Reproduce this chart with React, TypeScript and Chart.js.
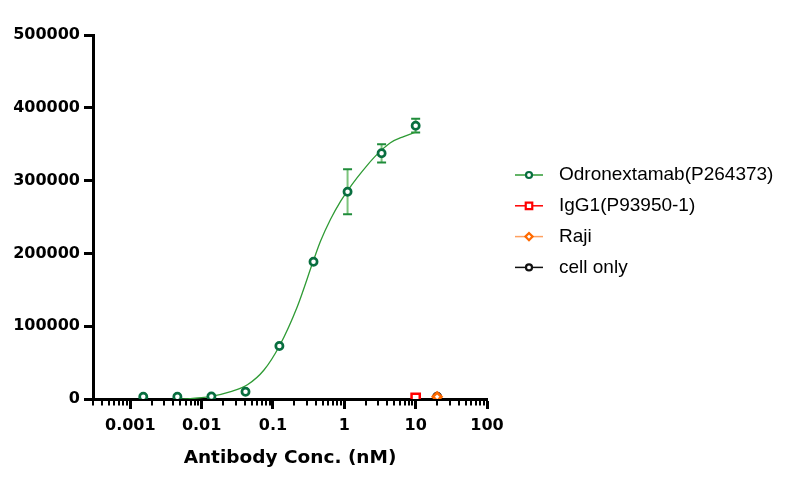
import React, { useEffect, useRef } from 'react';
import { Chart, registerables } from 'chart.js';
import { drawPoint } from 'chart.js/helpers';

Chart.register(...registerables);

// Odronextamab dose series (nM) and signal
const concentrations = [0.00152, 0.00457, 0.0137, 0.0412, 0.123, 0.37, 1.11, 3.33, 10];
const odronextamab = [3000, 3000, 3500, 10000, 72800, 188600, 284700, 337500, 375400];
const odronextamabSd = [0, 0, 0, 0, 0, 0, 31000, 12500, 9500];

// controls
const igg1Conc = [10];
const igg1 = [1500];
const rajiConc = [20];
const raji = [3000];
const cellOnlyConc = [20];
const cellOnly = [3000];

// fitted curve
const fitConc = [0.0015, 0.006, 0.0135, 0.0256, 0.0438, 0.0748, 0.123, 0.219, 0.37, 0.4645, 0.641, 0.885, 1.11, 1.515, 2.09, 2.88, 4.43, 6.79, 10];
const fitSignal = [-2500, 0, 3500, 10000, 19500, 39800, 72800, 126800, 190500, 217000, 247000, 271500, 286000, 304000, 321000, 336000, 352000, 360500, 366500];

// axes
const xTicks = [0.001, 0.01, 0.1, 1, 10, 100];
const xTickLabels = ['0.001', '0.01', '0.1', '1', '10', '100'];
const xMinorBases = [0.0001, 0.001, 0.01, 0.1, 1, 10];
const xMinorMultiples = [2, 3, 4, 5, 6, 7, 8, 9];
const yTicks = [0, 100000, 200000, 300000, 400000, 500000];

const toPoints = (xs: number[], ys: number[]) => xs.map((x, i) => ({ x, y: ys[i] }));

const errorBars = {
  id: 'errorBars',
  beforeDatasetsDraw(chart: any) {
    const { ctx, scales: { x, y } } = chart;
    ctx.save();
    concentrations.forEach((c, i) => {
      const sd = odronextamabSd[i];
      if (!sd) return;
      const px = x.getPixelForValue(c);
      const top = y.getPixelForValue(odronextamab[i] + sd);
      const bot = y.getPixelForValue(odronextamab[i] - sd);
      ctx.strokeStyle = '#7cc47c';
      ctx.lineWidth = 2;
      ctx.beginPath();
      ctx.moveTo(px, top);
      ctx.lineTo(px, bot);
      ctx.stroke();
      ctx.strokeStyle = '#1f8c3a';
      ctx.beginPath();
      ctx.moveTo(px - 4.5, top);
      ctx.lineTo(px + 4.5, top);
      ctx.moveTo(px - 4.5, bot);
      ctx.lineTo(px + 4.5, bot);
      ctx.stroke();
    });
    ctx.restore();
  },
};

const minorTicks = {
  id: 'minorTicks',
  afterDraw(chart: any) {
    const { ctx, chartArea } = chart;
    const xs = chart.scales.x;
    const y0 = chartArea.bottom + 1.5;
    ctx.save();
    ctx.strokeStyle = '#000';
    ctx.lineWidth = 2;
    ctx.beginPath();
    xMinorBases.forEach((b) => {
      xMinorMultiples.forEach((m) => {
        const v = b * m;
        if (v < xs.min || v > xs.max) return;
        const px = Math.round(xs.getPixelForValue(v));
        ctx.moveTo(px, y0);
        ctx.lineTo(px, y0 + 5);
      });
    });
    ctx.stroke();
    ctx.restore();
  },
};

const sideLegend = {
  id: 'sideLegend',
  afterDraw(chart: any) {
    const { ctx, chartArea } = chart;
    const x0 = chartArea.right + 28;
    const rowTop = chartArea.top + 140;
    const step = 30.8;
    ctx.save();
    chart.data.datasets.forEach((ds: any, i: number) => {
      if (!ds.legendLine) return;
      const y = rowTop + i * step;
      ctx.strokeStyle = ds.legendLine;
      ctx.lineWidth = 1.5;
      ctx.beginPath();
      ctx.moveTo(x0, y);
      ctx.lineTo(x0 + 28, y);
      ctx.stroke();
      ctx.strokeStyle = ds.pointBorderColor;
      ctx.fillStyle = '#fff';
      ctx.lineWidth = 2.2;
      drawPoint(ctx, { pointStyle: ds.pointStyle, radius: ds.legendRadius, rotation: 0, borderWidth: 2.2 }, x0 + 14, y);
      ctx.fillStyle = '#000';
      ctx.font = '19px "Liberation Sans", Arial, sans-serif';
      ctx.textBaseline = 'middle';
      ctx.textAlign = 'left';
      ctx.fillText(ds.label, x0 + 44, y);
    });
    ctx.restore();
  },
};

const tickFont = { family: 'DejaVu Sans', size: 16, weight: 'bold' as const };

export default function App() {
  const canvasRef = useRef<HTMLCanvasElement>(null);

  useEffect(() => {
    if (!canvasRef.current) return;
    const chart = new Chart(canvasRef.current, {
      type: 'scatter',
      data: {
        datasets: [
          {
            label: 'Odronextamab(P264373)',
            data: toPoints(concentrations, odronextamab),
            pointStyle: 'circle',
            pointRadius: 3.6,
            pointBorderWidth: 2.7,
            pointBorderColor: '#086e3f',
            pointBackgroundColor: '#fff',
            legendLine: '#2f9b35',
            legendRadius: 3,
          } as any,
          {
            label: 'IgG1(P93950-1)',
            data: toPoints(igg1Conc, igg1),
            pointStyle: 'rect',
            pointRadius: 5.8,
            pointBorderWidth: 2.5,
            pointBorderColor: '#ff0000',
            pointBackgroundColor: '#fff',
            legendLine: '#ff0000',
            legendRadius: 4.6,
          },
          {
            label: 'Raji',
            data: toPoints(rajiConc, raji),
            pointStyle: 'rectRot',
            pointRadius: 4.2,
            pointBorderWidth: 2.8,
            pointBorderColor: '#ff6a00',
            pointBackgroundColor: '#fff',
            legendLine: '#ffa060',
            legendRadius: 3.6,
          },
          {
            label: 'cell only',
            data: toPoints(cellOnlyConc, cellOnly),
            pointStyle: 'circle',
            pointRadius: 3.6,
            pointBorderWidth: 2.7,
            pointBorderColor: '#111',
            pointBackgroundColor: '#fff',
            legendLine: '#111',
            legendRadius: 3,
          },
          {
            label: 'fit',
            type: 'line',
            data: toPoints(fitConc, fitSignal),
            borderColor: '#2f9b35',
            borderWidth: 1.3,
            pointRadius: 0,
            cubicInterpolationMode: 'monotone',
            fill: false,
          },
        ],
      },
      options: {
        animation: false,
        responsive: true,
        maintainAspectRatio: false,
        layout: { padding: { top: 27, right: 292, bottom: 0, left: 0 } },
        plugins: {
          legend: { display: false },
          tooltip: { enabled: false },
        },
        scales: {
          x: {
            type: 'logarithmic',
            min: 0.000316,
            max: 100,
            afterFit: (s: any) => { s.height = 80; },
            afterBuildTicks: (s: any) => { s.ticks = xTicks.map((v) => ({ value: v })); },
            border: { color: '#000', width: 3 },
            grid: { drawOnChartArea: false, color: '#000', tickLength: 10, tickWidth: 3 },
            ticks: {
              autoSkip: false,
              maxRotation: 0,
              padding: 7,
              color: '#000',
              font: tickFont,
              callback: (v: any) => {
                const i = xTicks.indexOf(Number(v));
                return i >= 0 ? xTickLabels[i] : '';
              },
            },
            title: {
              display: true,
              text: 'Antibody Conc. (nM)',
              color: '#000',
              font: { family: 'DejaVu Sans', size: 18.5, weight: 'bold' },
              padding: { top: 0, bottom: 10 },
            },
          },
          y: {
            min: 0,
            max: 500000,
            afterFit: (s: any) => { s.width = 85; },
            afterBuildTicks: (s: any) => { s.ticks = yTicks.map((v) => ({ value: v })); },
            border: { color: '#000', width: 3 },
            grid: { drawOnChartArea: false, color: '#000', tickLength: 9, tickWidth: 3 },
            ticks: {
              padding: 4,
              color: '#000',
              font: tickFont,
              callback: (v: any) => String(v),
            },
          },
        },
      } as any,
      plugins: [errorBars, minorTicks, sideLegend],
    });
    return () => chart.destroy();
  }, []);

  return (
    <div style={{ position: 'relative', width: 771, height: 471 }}>
      <canvas ref={canvasRef} />
    </div>
  );
}
